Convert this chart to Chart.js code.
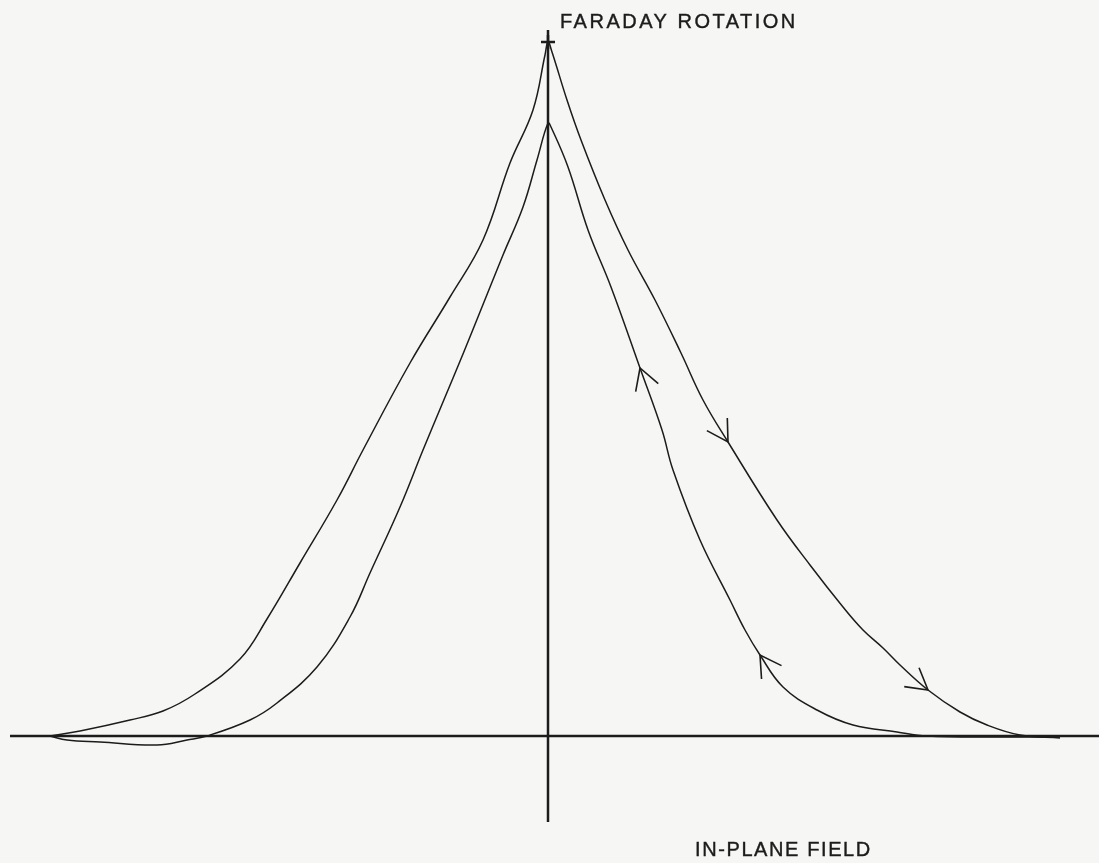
<!DOCTYPE html>
<html>
<head>
<meta charset="utf-8">
<title>Faraday rotation vs in-plane field</title>
<script src="https://cdn.jsdelivr.net/npm/chart.js@4.4.1/dist/chart.umd.min.js"></script>
<style>
  html, body { margin: 0; padding: 0; background: #f6f6f4; overflow: hidden; }
  #wrap { width: 1099px; height: 863px; position: relative; }
</style>
</head>
<body>
<div id="wrap"><canvas id="faradayChart"></canvas></div>
<script>
// outer branch, traced left tip -> peak -> right tail (arbitrary units)
var outerField = [-99.6, -93.6, -83.6, -77.0, -70.6, -61.6, -56.2, -49.6, -42.2, -37.0,
    -27.6, -19.6, -13.0, -7.6, -3.0, -0.6, 0, 0.8, 3.8, 6.6,
    11.4, 16.0, 21.4, 26.6, 31.0, 36.0, 45.8, 52.4, 59.0, 63.0,
    67.0, 70.4, 76.0, 82.4, 87.8, 94.4, 102.4];
var outerRotation = [0, 1.0, 3.2, 5.0, 8.4, 15.4, 23.4, 34.6, 47.2, 57.2,
    74.6, 87.8, 99.2, 114.6, 125.2, 136.2, 138.8, 136.8, 127.2, 119.2,
    107.2, 97.2, 87.2, 76.6, 67.2, 58.8, 43.2, 34.2, 25.8, 21.2,
    17.6, 14.2, 9.2, 4.8, 2.2, 0.2, -0.4];

// inner branch, traced right tail -> peak -> left tip
var innerField = [102.4, 90.4, 75.8, 69.8, 61.0, 53.8, 47.0, 42.4, 39.4, 36.4,
    30.4, 25.0, 22.8, 18.4, 12.6, 8.0, 4.0, 0.6, 0, -2.2,
    -5.0, -9.0, -13.6, -17.0, -21.0, -25.0, -29.6, -35.6, -39.6, -46.2,
    -54.2, -59.6, -68.2, -72.2, -78.2, -89.6, -96.2, -99.6];
var innerRotation = [-0.2, -0.2, 0, 0.8, 2.2, 5.2, 9.8, 16.2, 21.2, 27.2,
    39.2, 53.2, 61.2, 73.6, 89.8, 101.2, 113.8, 121.8, 122.6, 115.2,
    105.8, 96.2, 84.8, 76.4, 66.8, 57.2, 45.8, 32.6, 23.8, 13.8,
    6.6, 3.2, 0, -0.8, -1.8, -1.2, -0.8, 0];

// where the direction arrows sit (point index on each branch)
var outerArrows = [25, 32];
var innerArrows = [7, 13];

// axis extents
var fieldAxis = [-107.6, 110.2];
var rotationAxis = [-17.2, 141.2];

var ink = '#1c1c1c';

function pts(xs, ys) {
    return xs.map(function (x, i) { return { x: x, y: ys[i] }; });
}

var peak = Math.max.apply(null, outerRotation);

var paper = {
    id: 'paper',
    beforeDraw: function (chart) {
        var c = chart.ctx;
        c.save();
        c.fillStyle = '#f6f6f4';
        c.fillRect(0, 0, chart.width, chart.height);
        c.restore();
    }
};

// open V arrowheads pointing along the direction of travel
var arrowHeads = {
    id: 'arrowHeads',
    afterDatasetsDraw: function (chart) {
        var c = chart.ctx;
        var sets = [[0, outerArrows], [1, innerArrows]];
        c.save();
        c.strokeStyle = ink;
        c.lineWidth = 1.6;
        sets.forEach(function (s) {
            var meta = chart.getDatasetMeta(s[0]);
            s[1].forEach(function (i) {
                var p = meta.data[i], a = meta.data[i - 1], b = meta.data[i + 1];
                var ang = Math.atan2(b.y - a.y, b.x - a.x) + Math.PI;
                var len = 24, spread = Math.PI / 6;
                c.beginPath();
                c.moveTo(p.x + len * Math.cos(ang - spread), p.y + len * Math.sin(ang - spread));
                c.lineTo(p.x, p.y);
                c.lineTo(p.x + len * Math.cos(ang + spread), p.y + len * Math.sin(ang + spread));
                c.stroke();
            });
        });
        c.restore();
    }
};

var axisLabels = {
    id: 'axisLabels',
    afterDraw: function (chart) {
        var c = chart.ctx;
        var x0 = chart.scales.x.getPixelForValue(0);
        c.save();
        c.fillStyle = ink;
        c.strokeStyle = ink;
        c.lineWidth = 0.4;
        c.font = '20px "Liberation Sans", Arial, sans-serif';
        c.textBaseline = 'alphabetic';
        c.letterSpacing = '2.5px';
        c.fillText('FARADAY ROTATION', x0 + 12, 28);
        c.strokeText('FARADAY ROTATION', x0 + 12, 28);
        c.letterSpacing = '1.6px';
        c.fillText('IN-PLANE FIELD', x0 + 147, 856);
        c.strokeText('IN-PLANE FIELD', x0 + 147, 856);
        c.restore();
    }
};

var ctx = document.getElementById('faradayChart').getContext('2d');
var faradayChart = new Chart(ctx, {
    type: 'scatter',
    data: {
        datasets: [{
            data: pts(outerField, outerRotation),
            showLine: true,
            borderColor: ink,
            borderWidth: 1.5,
            tension: 0.4,
            pointRadius: 0
        }, {
            data: pts(innerField, innerRotation),
            showLine: true,
            borderColor: ink,
            borderWidth: 1.5,
            tension: 0.4,
            pointRadius: 0
        }, {
            // in-plane field axis
            data: [{ x: fieldAxis[0], y: 0 }, { x: fieldAxis[1], y: 0 }],
            showLine: true,
            borderColor: ink,
            borderWidth: 2.5,
            pointRadius: 0
        }, {
            // faraday rotation axis
            data: [{ x: 0, y: rotationAxis[0] }, { x: 0, y: rotationAxis[1] }],
            showLine: true,
            borderColor: ink,
            borderWidth: 2.5,
            pointRadius: 0
        }, {
            // peak marker
            data: [{ x: 0, y: peak }],
            pointStyle: 'cross',
            pointRadius: 7,
            borderColor: ink,
            borderWidth: 2.5
        }]
    },
    options: {
        responsive: true,
        maintainAspectRatio: false,
        animation: false,
        layout: { padding: 0, autoPadding: false },
        plugins: {
            legend: { display: false },
            tooltip: { enabled: false }
        },
        scales: {
            x: { type: 'linear', display: false, min: -109.6, max: 110.2 },
            y: { type: 'linear', display: false, min: -25.4, max: 147.2 }
        }
    },
    plugins: [paper, arrowHeads, axisLabels]
});
</script>
</body>
</html>
